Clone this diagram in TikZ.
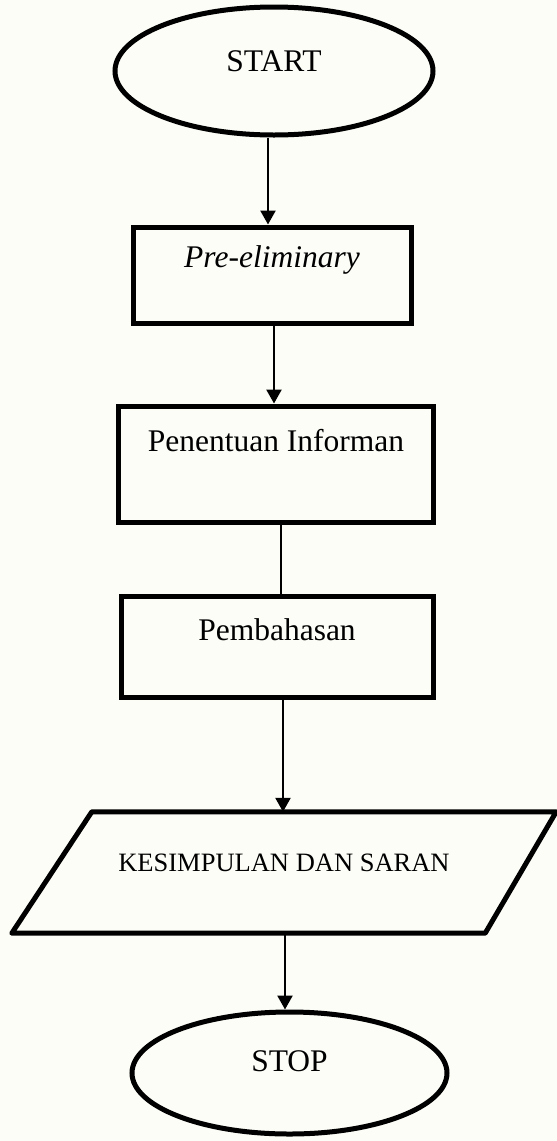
\documentclass[tikz,border=0pt]{standalone}
\usepackage{fontspec}
\setmainfont{Liberation Serif}
\usepackage{xcolor}
\usetikzlibrary{shapes.geometric,arrows.meta}

\definecolor{paper}{HTML}{FDFDF8}

\tikzset{
    terminal/.style={ellipse, draw, line width=5pt, minimum width=315pt, minimum height=122pt, font=\fontsize{31.5}{36}\selectfont, text height=22pt},
    process/.style={rectangle, draw, line width=5pt, font=\fontsize{31.5}{36}\selectfont, text height=22pt},
    flow/.style={line width=2.5pt, -{Triangle[length=14pt,width=15pt]}},
    link/.style={line width=2.5pt}
}

\begin{document}
\begin{tikzpicture}[x=1pt,y=-1pt]
    % page and background
    \fill[paper] (0,0) rectangle (557,1141);
    \useasboundingbox (0,0) rectangle (557,1141);

    % start and stop
    \node[terminal, minimum width=318pt, minimum height=128pt, text depth=21pt] (start) at (274,71) {START};
    \node[terminal, text depth=25pt] (stop) at (289.5,1073) {STOP};

    % the steps
    \node[process, minimum width=278pt, minimum height=96pt, text depth=37pt] (pre) at (272,275) {\itshape Pre-eliminary};
    \node[process, minimum width=315pt, minimum height=116pt, text depth=47pt] (pen) at (276,464) {Penentuan Informan};
    \node[process, minimum width=312pt, minimum height=101pt, text depth=34pt] (pem) at (277,646.5) {Pembahasan};

    % output box (parallelogram)
    \node[minimum width=544pt, minimum height=121pt, font=\fontsize{26.5}{30}\selectfont, text height=18pt, text depth=21pt] (kes) at (284,872.5) {KESIMPULAN DAN SARAN};
    \draw[line width=5pt, line join=round] ([xshift=80pt]kes.north west) -- (kes.north east)
        -- ([xshift=-71pt]kes.south east) -- (kes.south west) -- cycle;

    % connectors
    \draw[flow] ([xshift=-6pt]start.south) -- ([xshift=-6pt]start.south |- pre.north);
    \draw[flow] ([xshift=2pt]pre.south) -- ([xshift=2pt]pre.south |- pen.north);
    \draw[link] ([xshift=5pt]pen.south) -- ([xshift=5pt]pen.south |- pem.north);
    \draw[flow] ([xshift=6pt]pem.south) -- ([xshift=6pt]pem.south |- kes.north);
    \draw[flow] ([xshift=-4.5pt]stop.north |- kes.south) -- ([xshift=-4.5pt]stop.north);
\end{tikzpicture}
\end{document}
